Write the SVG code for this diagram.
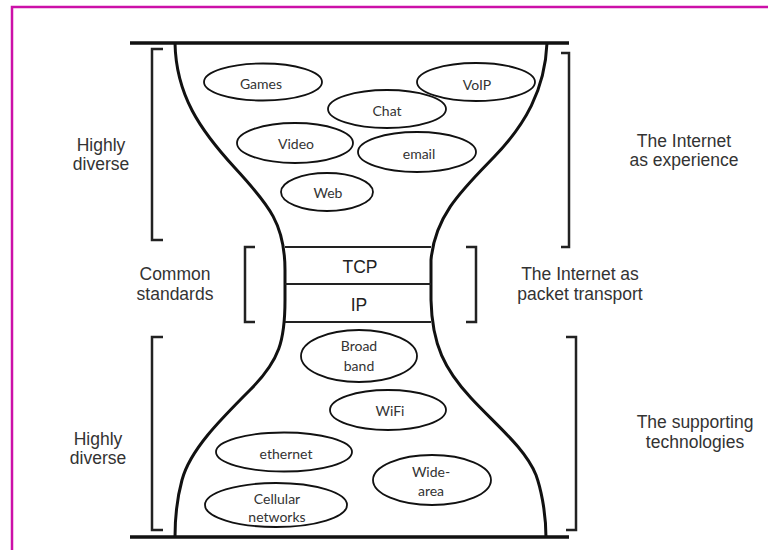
<svg xmlns="http://www.w3.org/2000/svg" width="768" height="550" viewBox="0 0 768 550">
<style>
.frame{fill:none;stroke:#cc10a8;stroke-width:2.5}
.bar{stroke:#111;stroke-width:3.5;fill:none}
.neck{stroke:#111;stroke-width:3;fill:none}
.layer{stroke:#222;stroke-width:2;fill:none}
.brk{stroke:#222;stroke-width:2.5;fill:none}
.ell{fill:none;stroke:#111;stroke-width:1.8}
.lbl{font-family:"Liberation Sans",Arial,sans-serif;font-size:17.5px;fill:#333;text-anchor:middle}
.ltxt{font-family:"Liberation Sans",Arial,sans-serif;font-size:17.5px;fill:#222;text-anchor:middle}
.etxt{font-family:Lato,"Open Sans",sans-serif;font-size:14px;fill:#333;text-anchor:middle}
</style>
<rect width="768" height="550" fill="#fff"/>
<path class="frame" d="M12,550 V7 H768"/>
<g id="hourglass">
<path class="bar" d="M130,43 H569"/>
<path class="bar" d="M130,537 H569"/>
<path class="neck" d="M175,43 C176,95 200,130 235,168 S285,225 285,270 L285,300 C285,340 280,360 250,390 C220,420 190,450 182,480 C176,502 175,520 175,537"/>
<path class="neck" d="M547,43 C545,90 525,125 494,157 S435,215 431,260 L431,300 C432,345 445,370 471,398 C497,426 525,448 536,475 C540,486 546,510 546,538"/>
</g>
<g id="tcp">
<path class="layer" d="M285,247 H431 M285,284 H431"/>
<text class="ltxt" x="360" y="273">TCP</text>
</g>
<g id="ip">
<path class="layer" d="M285,322 H431"/>
<text class="ltxt" x="359" y="311">IP</text>
</g>
<g id="games"><ellipse class="ell" cx="263" cy="82" rx="59" ry="18.5"/><text class="etxt" x="261" y="89">Games</text></g>
<g id="chat"><ellipse class="ell" cx="387" cy="109" rx="59" ry="19"/><text class="etxt" x="387" y="116">Chat</text></g>
<g id="voip"><ellipse class="ell" cx="476" cy="82" rx="59" ry="19"/><text class="etxt" x="477" y="90">VoIP</text></g>
<g id="video"><ellipse class="ell" cx="295" cy="143" rx="58" ry="20"/><text class="etxt" x="296" y="149">Video</text></g>
<g id="email"><ellipse class="ell" cx="417" cy="152" rx="59" ry="20"/><text class="etxt" x="419" y="159">email</text></g>
<g id="web"><ellipse class="ell" cx="327" cy="192" rx="46" ry="19"/><text class="etxt" x="328" y="198">Web</text></g>
<g id="broadband"><ellipse class="ell" cx="359" cy="356" rx="58" ry="26"/><text class="etxt" x="359" y="351">Broad</text><text class="etxt" x="359" y="371">band</text></g>
<g id="wifi"><ellipse class="ell" cx="388" cy="410" rx="58" ry="20"/><text class="etxt" x="390" y="416">WiFi</text></g>
<g id="ethernet"><ellipse class="ell" cx="284" cy="452" rx="68" ry="19.5"/><text class="etxt" x="286" y="459">ethernet</text></g>
<g id="widearea"><ellipse class="ell" cx="432" cy="480" rx="59" ry="25"/><text class="etxt" x="431" y="477">Wide-</text><text class="etxt" x="431" y="496">area</text></g>
<g id="cellular"><ellipse class="ell" cx="276" cy="505" rx="71" ry="22"/><text class="etxt" x="277" y="504">Cellular</text><text class="etxt" x="277" y="522">networks</text></g>
<g id="brackets">
<path class="brk" d="M163,49 H152 V240 H163"/>
<path class="brk" d="M255,247 H245 V322 H255"/>
<path class="brk" d="M163,337 H152 V530 H163"/>
<path class="brk" d="M561,53 H569 V247 H561"/>
<path class="brk" d="M466,247 H476 V322 H466"/>
<path class="brk" d="M566,337 H576 V530 H566"/>
</g>
<g id="labels">
<text class="lbl" x="101" y="151">Highly</text>
<text class="lbl" x="101" y="170">diverse</text>
<text class="lbl" x="175" y="280">Common</text>
<text class="lbl" x="175" y="300">standards</text>
<text class="lbl" x="98" y="445">Highly</text>
<text class="lbl" x="98" y="464">diverse</text>
<text class="lbl" x="684" y="147">The Internet</text>
<text class="lbl" x="684" y="166">as experience</text>
<text class="lbl" x="580" y="280">The Internet as</text>
<text class="lbl" x="580" y="300">packet transport</text>
<text class="lbl" x="695" y="428">The supporting</text>
<text class="lbl" x="695" y="448">technologies</text>
</g>
</svg>
